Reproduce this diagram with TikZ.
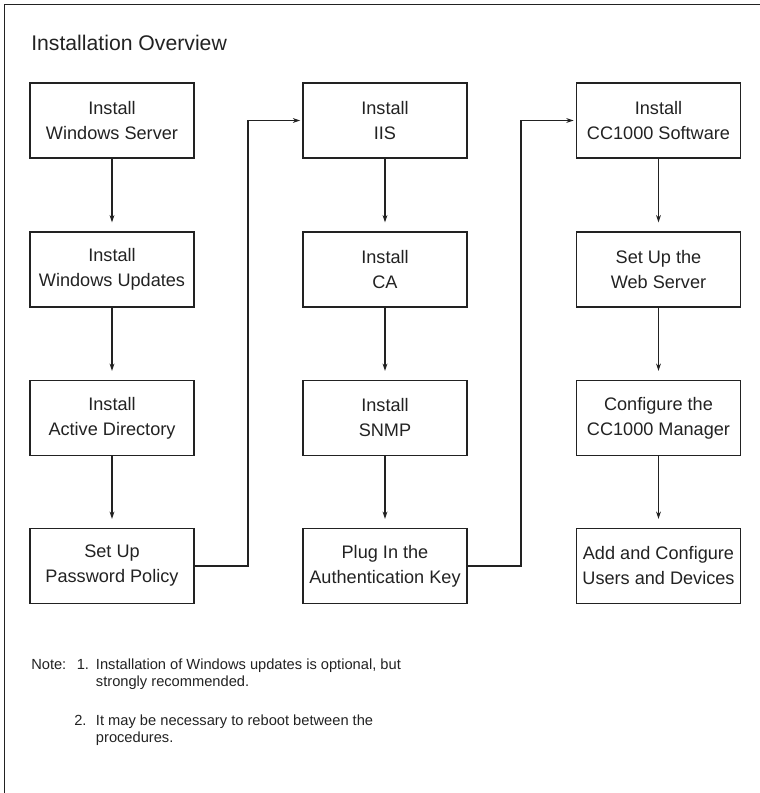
\documentclass[tikz,border=0pt]{standalone}
\usepackage{fontspec}
\setmainfont{Liberation Sans}
\usetikzlibrary{arrows.meta}
\definecolor{ink}{HTML}{222222}
\begin{document}
\begin{tikzpicture}[x=0.75pt,y=-0.75pt,
  stepbox/.style={draw=ink,line width=1.2pt,minimum width=123pt,minimum height=56pt,
    align=center,inner sep=0pt,font=\fontsize{13.6}{18.75}\selectfont,text=ink},
  flow/.style={draw=ink,line width=0.8pt,-{Stealth[length=5.5pt,width=3.6pt]}},
  notetext/.style={anchor=base west,inner sep=0pt,font=\fontsize{11}{13}\selectfont,text=ink}]
\useasboundingbox (0,0) rectangle (760,793);
% outer frame (open to the right and bottom)
\draw[ink,line width=1.2pt] (4.5,800) -- (4.5,4.5) -- (770,4.5);
% title
\node[anchor=base west,inner sep=0pt,font=\fontsize{15.9}{18}\selectfont,text=ink] (title) at (31,50) {Installation Overview};
% first column
\node[stepbox] (ws)  at (112,120.5) {Install\\Windows Server};
\node[stepbox] (wu)  at (112,269.5) {Install\\Windows Updates};
\node[stepbox] (ad)  at (112,418)   {Install\\Active Directory};
\node[stepbox] (pw)  at (112,566)   {Set Up\\Password Policy};
% second column
\node[stepbox] (iis) at (385,120.5) {Install\\IIS};
\node[stepbox] (ca)  at (385,269.5) {Install\\CA};
\node[stepbox] (sn)  at (385,418)   {Install\\SNMP};
\node[stepbox] (key) at (385,566)   {Plug In the\\Authentication Key};
% third column
\node[stepbox] (cc)  at (658.5,120.5) {Install\\CC1000 Software};
\node[stepbox] (web) at (658.5,269.5) {Set Up the\\Web Server};
\node[stepbox] (mgr) at (658.5,418)   {Configure the\\CC1000 Manager};
\node[stepbox] (usr) at (658.5,566)   {Add and Configure\\Users and Devices};
% vertical flow within each column
\foreach \a/\b in {ws/wu,wu/ad,ad/pw,iis/ca,ca/sn,sn/key,cc/web,web/mgr,mgr/usr}
  \draw[flow,shorten >=6.75pt] (\a.south) -- (\b.north);
% jumps between columns
\coordinate (j1) at (248,566);
\coordinate (j2) at (248,120.5);
\coordinate (k1) at (521,566);
\coordinate (k2) at (521,120.5);
\draw[flow,shorten >=1.5pt] (pw.east) -- (j1) -- (j2) -- (iis.west);
\draw[flow,shorten >=1.5pt] (key.east) -- (k1) -- (k2) -- (cc.west);
% notes
\node[notetext] (nl) at (31,669) {Note:};
\node[notetext] (n1) at (76.5,669) {1.};
\node[notetext] (n1a) at (95.7,669) {Installation of Windows updates is optional, but};
\node[notetext] (n1b) at (95.7,686) {strongly recommended.};
\node[notetext] (n2) at (74,725) {2.};
\node[notetext] (n2a) at (95.7,725) {It may be necessary to reboot between the};
\node[notetext] (n2b) at (95.7,742) {procedures.};
\end{tikzpicture}
\end{document}
